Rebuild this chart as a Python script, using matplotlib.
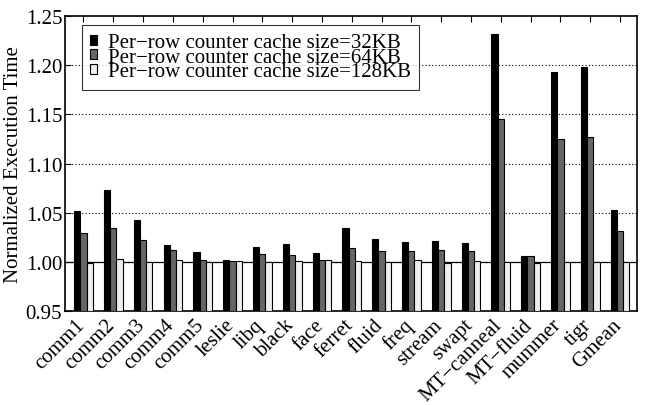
import numpy as np
import matplotlib.pyplot as plt
import matplotlib.transforms as mtransforms

plt.rcParams['font.family'] = ['Liberation Serif', 'DejaVu Serif']

benchmarks = ['comm1', 'comm2', 'comm3', 'comm4', 'comm5', 'leslie', 'libq',
              'black', 'face', 'ferret', 'fluid', 'freq', 'stream', 'swapt',
              'MT\u2212canneal', 'MT\u2212fluid', 'mummer', 'tigr', 'Gmean']

cache_32kb = [1.0515, 1.0735, 1.043, 1.017, 1.0098, 1.0023, 1.0146, 1.0186,
              1.0088, 1.0342, 1.023, 1.0206, 1.0217, 1.0193, 1.2322, 1.0064,
              1.1932, 1.1983, 1.0529]
cache_64kb = [1.0298, 1.0349, 1.022, 1.0125, 1.0023, 1.0013, 1.0078, 1.0068,
              1.0023, 1.0142, 1.0112, 1.0115, 1.0119, 1.0112, 1.1458, 1.0058,
              1.1247, 1.1274, 1.0315]
cache_128kb = [0.999, 1.0034, 0.9995, 1.002, 0.9995, 1.0006, 1.0002, 1.0013,
               1.0017, 1.0007, 0.9996, 1.0017, 0.9993, 1.001, 0.9996, 0.999,
               0.9997, 1.0001, 0.9997]

series = [
    ('Per\u2212row counter cache size=32KB', cache_32kb, '#000000'),
    ('Per\u2212row counter cache size=64KB', cache_64kb, '#666666'),
    ('Per\u2212row counter cache size=128KB', cache_128kb, '#eeeeee'),
]

ymin = 0.95
x = np.arange(len(benchmarks))
w = 0.21

fig = plt.figure(figsize=(6.45, 4.06), dpi=100)
ax = fig.add_axes([0.1008, 0.2315, 0.8868, 0.7265])

for i, (label, vals, color) in enumerate(series):
    vals = np.array(vals)
    ax.bar(x + (i - 1) * w, vals - ymin, w, bottom=ymin, color=color,
           edgecolor='black', linewidth=0.8, label=label, zorder=3)

ax.axhline(1.0, color='black', linewidth=0.9, zorder=2)
for y in [1.05, 1.10, 1.15, 1.20]:
    ax.axhline(y, color='black', linewidth=0.8, linestyle=(0, (1, 2)), zorder=1)

ax.set_xlim(-0.62, 18.57)
ax.set_ylim(0.95, 1.25)
ax.set_yticks([0.95, 1.00, 1.05, 1.10, 1.15, 1.20, 1.25])
ax.set_yticklabels(['%.2f' % v for v in ax.get_yticks()], fontsize=15)
ax.set_xticks(x)
ax.set_xticklabels(benchmarks, rotation=45, ha='right', va='top',
                   rotation_mode='anchor', fontsize=15)
ax.tick_params(axis='x', direction='in', top=True, bottom=False, length=4,
               pad=3)
ax.tick_params(axis='y', direction='in', left=True, right=False, length=4,
               pad=2)
ax.set_ylabel('Normalized Execution Time', fontsize=15, labelpad=2)

# nudge the slanted names a little to the left
shift = mtransforms.ScaledTranslation(-0.08, 0, fig.dpi_scale_trans)
for lbl in ax.get_xticklabels():
    lbl.set_transform(lbl.get_transform() + shift)

for s in ax.spines.values():
    s.set_linewidth(1.2)

leg = ax.legend(loc='upper left', bbox_to_anchor=(0.029, 0.9705), fontsize=15,
                frameon=True, fancybox=False, edgecolor='black',
                handlelength=0.35, handleheight=0.35, handletextpad=0.5,
                labelspacing=-0.21, borderpad=0.4, borderaxespad=0)
leg.get_frame().set_linewidth(0.8)

fig.savefig('out.png', dpi=100)
